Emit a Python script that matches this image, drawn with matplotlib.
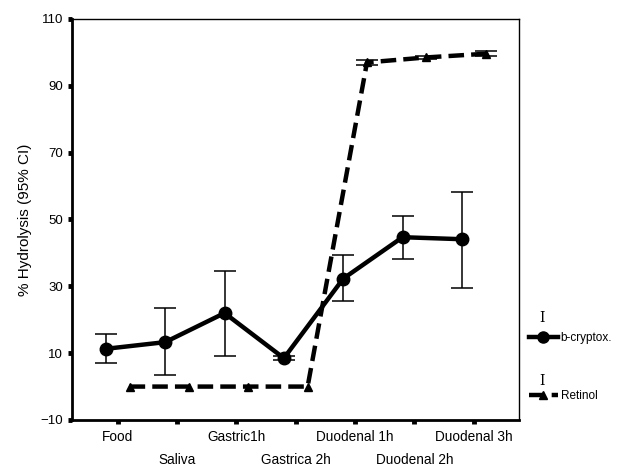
import numpy as np
import matplotlib.pyplot as plt
from matplotlib.lines import Line2D

plt.rcParams["font.family"] = ["Liberation Sans", "DejaVu Sans"]

STAGES = ["Food", "Saliva", "Gastric1h", "Gastrica 2h",
          "Duodenal 1h", "Duodenal 2h", "Duodenal 3h"]

# b-cryptoxanthin: mean and 95% CI bounds
CRYPTO_MEAN = [11.3, 13.3, 22.0, 8.5, 32.3, 44.7, 44.1]
CRYPTO_LOW = [7.0, 3.4, 9.1, 8.0, 25.6, 38.1, 29.5]
CRYPTO_HIGH = [15.7, 23.5, 34.6, 9.0, 39.3, 51.0, 58.2]

# retinol (no visible CI in the first four stages)
RETINOL_MEAN = [0.0, 0.0, 0.0, 0.0, 97.0, 98.5, 99.6]
RETINOL_LOW = [np.nan, np.nan, np.nan, np.nan, 96.3, 98.0, 98.9]
RETINOL_HIGH = [np.nan, np.nan, np.nan, np.nan, 97.8, 99.0, 100.4]

Y_TICKS = [-10, 10, 30, 50, 70, 90, 110]
DODGE = 0.2
DASH = (0, (3.5, 1.6))


def main():
    fig = plt.figure(figsize=(6.32, 4.69), dpi=100)
    ax = fig.add_axes([0.114, 0.1045, 0.707, 0.855])

    x = np.arange(len(STAGES))
    xc = x - DODGE
    xr = x + DODGE

    cm = np.array(CRYPTO_MEAN)
    ax.errorbar(xc, cm, yerr=[cm - np.array(CRYPTO_LOW), np.array(CRYPTO_HIGH) - cm],
                fmt="none", ecolor="black", elinewidth=1.1, capsize=8, capthick=1.1, zorder=2)
    ax.plot(xc, cm, color="black", lw=3.2, marker="o", ms=9, zorder=3)

    rm = np.array(RETINOL_MEAN)
    ok = ~np.isnan(np.array(RETINOL_LOW))
    ax.errorbar(xr[ok], rm[ok],
                yerr=[rm[ok] - np.array(RETINOL_LOW)[ok], np.array(RETINOL_HIGH)[ok] - rm[ok]],
                fmt="none", ecolor="black", elinewidth=1.1, capsize=8, capthick=1.1, zorder=2)
    ax.plot(xr, rm, color="black", lw=3.2, ls=DASH, marker="^", ms=6, zorder=3)

    ax.set_xlim(-0.77, 6.76)
    ax.set_ylim(-10, 110)
    ax.set_yticks(Y_TICKS)
    ax.set_xticks(x)
    ax.set_xticklabels(STAGES)
    ax.tick_params(axis="both", direction="out", length=3, width=3.5)
    ax.tick_params(axis="x", labelsize=9.8)
    ax.tick_params(axis="y", labelsize=9.5)
    for i, tick in enumerate(ax.xaxis.get_major_ticks()):
        tick.set_pad(4 if i % 2 == 0 else 21)

    ax.set_ylabel("% Hydrolysis (95% CI)", fontsize=11, labelpad=6)

    for side in ["left", "bottom"]:
        ax.spines[side].set_linewidth(2)
    for side in ["top", "right"]:
        ax.spines[side].set_linewidth(1)

    # legend: two line entries, each with a small CI glyph above it
    handles = [
        Line2D([], [], color="black", lw=3.2, marker="o", ms=8),
        Line2D([], [], color="black", lw=3.2, ls=DASH, marker="^", ms=6),
    ]
    ax.legend(handles, ["b-cryptox.", "Retinol"], loc="center left",
              bbox_to_anchor=(1.022, 0.133), frameon=False, fontsize=8.5,
              handlelength=2.5, handletextpad=0.2, labelspacing=3.9,
              borderpad=0, borderaxespad=0)
    for ypos in [0.254, 0.097]:
        ax.text(1.051, ypos, "I", transform=ax.transAxes, ha="center", va="center",
                fontsize=10, family="DejaVu Serif")

    fig.savefig("out.png", dpi=100)
    plt.close(fig)


if __name__ == "__main__":
    main()
